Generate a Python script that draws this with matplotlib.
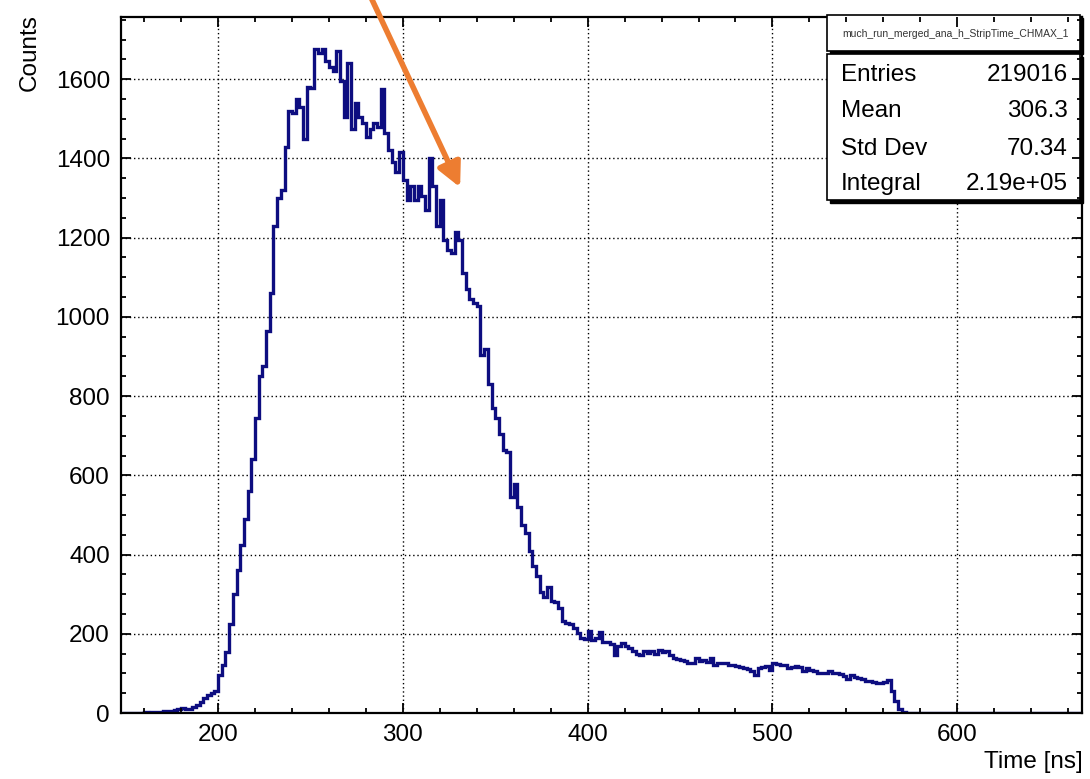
import numpy as np
import matplotlib
matplotlib.use("Agg")
import matplotlib.pyplot as plt
from matplotlib.patches import Rectangle
from matplotlib.ticker import MultipleLocator

plt.rcParams['font.family'] = ['Liberation Sans', 'DejaVu Sans']

# histogram: 2 ns bins starting at 148 ns
bin_start = 148
bin_width = 2
counts = [
    0, 0, 0, 1, 0, 1, 2, 1, 2, 3,
    3, 4, 5, 6, 8, 10, 12, 10, 9, 14,
    20, 28, 38, 45, 50, 56, 96, 121, 155, 225,
    300, 360, 425, 490, 560, 640, 745, 850, 877, 965,
    1060, 1230, 1300, 1320, 1428, 1520, 1515, 1550, 1530, 1450,
    1580, 1578, 1675, 1665, 1675, 1645, 1630, 1620, 1670, 1595,
    1505, 1640, 1475, 1540, 1505, 1490, 1455, 1475, 1490, 1480,
    1575, 1465, 1420, 1390, 1365, 1415, 1345, 1295, 1330, 1295,
    1330, 1305, 1270, 1400, 1330, 1230, 1295, 1195, 1170, 1160,
    1215, 1195, 1110, 1070, 1045, 1035, 1028, 905, 920, 830,
    770, 745, 705, 665, 660, 545, 578, 520, 475, 455,
    410, 370, 345, 305, 292, 318, 282, 280, 265, 232,
    228, 225, 214, 201, 190, 188, 208, 184, 190, 205,
    180, 178, 175, 146, 170, 176, 168, 163, 156, 150,
    146, 157, 151, 156, 150, 159, 155, 157, 146, 140,
    136, 134, 131, 126, 127, 139, 131, 134, 130, 139,
    121, 127, 125, 126, 121, 122, 119, 117, 114, 110,
    106, 96, 113, 115, 118, 108, 126, 124, 121, 120,
    113, 116, 118, 117, 106, 113, 108, 106, 101, 102,
    101, 106, 102, 101, 99, 93, 85, 96, 90, 88,
    87, 82, 80, 77, 76, 76, 78, 83, 55, 30,
    10, 3,
] + [0] * 48

stat_names = ["Entries", "Mean", "Std Dev", "Integral"]
stat_values = ["219016", "306.3", "70.34", "2.19e+05"]
hist_name = "much_run_merged_ana_h_StripTime_CHMAX_1"

W, H = 1090, 779
fig = plt.figure(figsize=(W / 100, H / 100), dpi=100)

def fx(px):
    return px / W

def fy(py):
    return 1 - py / H

ax = fig.add_axes([fx(121), fy(713), fx(1082) - fx(121), fy(17) - fy(713)])

edges = bin_start + bin_width * np.arange(len(counts) + 1)
ax.stairs(counts, edges, color='#0d0d80', lw=2.4, zorder=2)

ax.set_xlim(147.5, 667.5)
ax.set_ylim(0, 1757)

ax.xaxis.set_major_locator(MultipleLocator(100))
ax.xaxis.set_minor_locator(MultipleLocator(20))
ax.yaxis.set_major_locator(MultipleLocator(200))
ax.yaxis.set_minor_locator(MultipleLocator(50))

# dotted grid at the major ticks
for t in range(200, 700, 100):
    ax.axvline(t, color='black', lw=1.0, ls=(0, (1, 2)), zorder=1)
for t in range(200, 1800, 200):
    ax.axhline(t, color='black', lw=1.0, ls=(0, (1, 2)), zorder=1)

ax.tick_params(which='both', direction='in', top=True, right=True,
               labelsize=17.5, width=1.3)
ax.tick_params(which='major', length=7)
ax.tick_params(which='minor', length=3.5)
ax.tick_params(axis='x', pad=8)
ax.tick_params(axis='y', pad=8)
for s in ax.spines.values():
    s.set_linewidth(1.6)
ax.xaxis.set_zorder(5)
ax.yaxis.set_zorder(5)

fig.text(fx(30), fy(14), "Counts", rotation=90, ha='center', va='top', fontsize=17.5)
fig.text(fx(1083), fy(762), "Time [ns]", ha='right', va='center', fontsize=17.5)

# stats box with ROOT-like shadow
def box(x0, y0, x1, y1):
    tr = fig.transFigure
    ax.add_patch(Rectangle((fx(x0 + 3), fy(y1 + 3)), fx(x1) - fx(x0), fy(y0) - fy(y1),
                           transform=tr, facecolor='black', edgecolor='black',
                           clip_on=False, zorder=3))
    ax.add_patch(Rectangle((fx(x0), fy(y1)), fx(x1) - fx(x0), fy(y0) - fy(y1),
                           transform=tr, facecolor='white', edgecolor='black', lw=1.2,
                           clip_on=False, zorder=3.1))

box(827, 15, 1080, 51)
box(827, 54, 1080, 200)
fig.text(fx(956), fy(34), hist_name, ha='center', va='center', fontsize=7.5,
         color='#333333', zorder=6)

row_y = [75, 111, 149, 184]
for name, val, y in zip(stat_names, stat_values, row_y):
    fig.text(fx(841), fy(y), name, ha='left', va='center', fontsize=17.5, zorder=6)
    fig.text(fx(1068), fy(y), val, ha='right', va='center', fontsize=17.5, zorder=6)

# orange annotation arrow
ax.annotate("", xy=(331, 1327), xycoords='data',
            xytext=(fx(370), 1.006), textcoords='figure fraction',
            arrowprops=dict(arrowstyle='-|>', color='#ed7d31', lw=4,
                            mutation_scale=36, shrinkA=0, shrinkB=0),
            annotation_clip=False, zorder=7)

fig.savefig("out.png", dpi=100)
